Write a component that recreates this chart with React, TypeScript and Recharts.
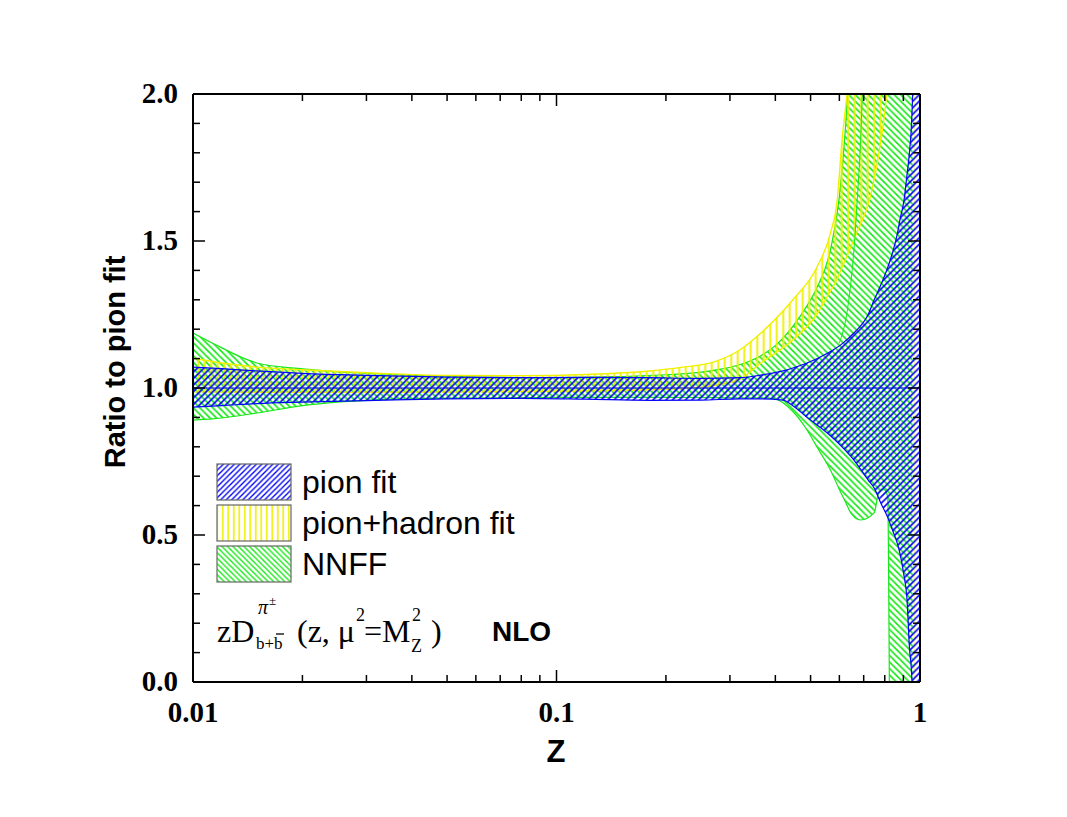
import React from 'react';
import { ComposedChart, Area, Line, XAxis, YAxis, ReferenceLine } from 'recharts';

// pion fit band (blue)
const pionZ = [0.01, 0.012, 0.015, 0.02, 0.03, 0.05, 0.08, 0.12, 0.18, 0.25, 0.32, 0.365, 0.42, 0.447, 0.489, 0.558, 0.61, 0.658, 0.72, 0.748, 0.78, 0.815, 0.84, 0.867, 0.88, 0.904, 0.92, 0.935, 0.95, 0.956, 0.96, 1.0];
const pionLow = [0.935, 0.94, 0.947, 0.952, 0.957, 0.963, 0.965, 0.962, 0.958, 0.959, 0.963, 0.963, 0.959, 0.94, 0.9, 0.845, 0.8, 0.755, 0.687, 0.66, 0.609, 0.56, 0.517, 0.47, 0.439, 0.36, 0.289, 0.119, 0.007, -0.1, -0.5, -0.5];
const pionHigh = [1.071, 1.066, 1.058, 1.05, 1.043, 1.037, 1.035, 1.036, 1.035, 1.033, 1.035, 1.044, 1.058, 1.068, 1.085, 1.119, 1.15, 1.187, 1.25, 1.3, 1.35, 1.41, 1.46, 1.527, 1.57, 1.64, 1.72, 1.8, 1.93, 2.05, 2.5, 2.5];

// pion+hadron fit band (yellow)
const hadZ = [0.01, 0.012, 0.015, 0.02, 0.03, 0.05, 0.08, 0.12, 0.18, 0.22, 0.27, 0.32, 0.365, 0.447, 0.52, 0.567, 0.592, 0.61, 0.63, 0.67, 0.73, 0.78, 0.81, 0.84];
const hadLow = [0.987, 0.986, 0.985, 0.985, 0.985, 0.986, 0.988, 0.99, 0.994, 0.998, 1.008, 1.03, 1.085, 1.163, 1.25, 1.33, 1.37, 1.41, 1.45, 1.527, 1.65, 1.84, 2.0, 2.3];
const hadHigh = [1.102, 1.085, 1.071, 1.062, 1.052, 1.043, 1.042, 1.046, 1.058, 1.07, 1.088, 1.13, 1.187, 1.3, 1.41, 1.527, 1.64, 1.84, 2.0, 2.4, 2.6, 2.6, 2.6, 2.6];
const hadEdgeZ = [0.962, 0.975];
const hadEdgeLow = [-0.5, -0.5];
const hadEdgeHigh = [2.6, 2.6];

// NNFF band (green)
const nnZ = [0.01, 0.0113, 0.015, 0.02, 0.025, 0.03, 0.05, 0.1, 0.2, 0.27, 0.32, 0.365, 0.396, 0.447, 0.489, 0.52, 0.567, 0.6, 0.625, 0.645, 0.686, 0.748, 0.77, 0.795, 0.815, 0.83, 0.955];
const nnLow = [0.891, 0.895, 0.915, 0.94, 0.952, 0.958, 0.965, 0.968, 0.968, 0.967, 0.966, 0.966, 0.964, 0.92, 0.857, 0.8, 0.721, 0.655, 0.61, 0.575, 0.551, 0.575, 0.643, 0.655, 0.63, -0.4, -0.4];
const nnHigh = [1.187, 1.153, 1.085, 1.065, 1.055, 1.05, 1.04, 1.035, 1.045, 1.06, 1.08, 1.11, 1.14, 1.21, 1.28, 1.34, 1.47, 1.65, 1.9, 2.2, 2.6, 2.6, 2.6, 2.6, 2.6, 2.6, 2.6];
const nnInnerZ = [0.6, 0.637, 0.658, 0.672, 0.685, 0.695];
const nnInner = [1.153, 1.3, 1.47, 1.64, 1.82, 2.02];

const xTicks = [0.01, 0.02, 0.03, 0.04, 0.05, 0.06, 0.07, 0.08, 0.09, 0.1, 0.2, 0.3, 0.4, 0.5, 0.6, 0.7, 0.8, 0.9, 1];
const xMajor = [0.01, 0.1, 1];
const yTicks = [0, 0.1, 0.2, 0.3, 0.4, 0.5, 0.6, 0.7, 0.8, 0.9, 1.0, 1.1, 1.2, 1.3, 1.4, 1.5, 1.6, 1.7, 1.8, 1.9, 2.0];
const yMajor = [0, 0.5, 1.0, 1.5, 2.0];

const band = (zs: number[], lo: number[], hi: number[]) =>
  zs.map((z, i) => ({ z, range: [lo[i], hi[i]] }));

const pionData = band(pionZ, pionLow, pionHigh);
const hadData = band(hadZ, hadLow, hadHigh);
const hadEdgeData = band(hadEdgeZ, hadEdgeLow, hadEdgeHigh);
const nnData = band(nnZ, nnLow, nnHigh);
const nnInnerData = nnInnerZ.map((z, i) => ({ z, v: nnInner[i] }));

const BLUE = '#0505f5';
const YELLOW = '#f0f000';
const GREEN = '#18e818';
const serif = "'Liberation Serif', 'Times New Roman', serif";
const sans = "'Liberation Sans', Arial, sans-serif";

const isMajor = (list: number[], v: number) => list.some((m) => Math.abs(m - v) < 1e-9);

const BottomTick = (props: any) => {
  const { x, y, payload } = props;
  const major = isMajor(xMajor, payload.value);
  return (
    <g>
      <line x1={x} x2={x} y1={y} y2={y - (major ? 12 : 7)} stroke="#000" strokeWidth={1.5} />
      {major && (
        <text x={x} y={y + 40} textAnchor="middle" fontFamily={serif} fontWeight="bold" fontSize={29}>
          {String(payload.value)}
        </text>
      )}
    </g>
  );
};

const TopTick = (props: any) => {
  const { x, y, payload } = props;
  const major = isMajor(xMajor, payload.value);
  return <line x1={x} x2={x} y1={y} y2={y + (major ? 12 : 7)} stroke="#000" strokeWidth={1.5} />;
};

const LeftTick = (props: any) => {
  const { x, y, payload } = props;
  const major = isMajor(yMajor, payload.value);
  return (
    <g>
      <line x1={x} x2={x + (major ? 12 : 7)} y1={y} y2={y} stroke="#000" strokeWidth={1.5} />
      {major && (
        <text x={x - 15} y={y + 9} textAnchor="end" fontFamily={serif} fontWeight="bold" fontSize={29}>
          {payload.value.toFixed(1)}
        </text>
      )}
    </g>
  );
};

const RightTick = (props: any) => {
  const { x, y, payload } = props;
  const major = isMajor(yMajor, payload.value);
  return <line x1={x} x2={x - (major ? 12 : 7)} y1={y} y2={y} stroke="#000" strokeWidth={1.5} />;
};

const Hatches = ({ step, prefix, w }: { step: number; prefix: string; w: number }) => (
  <defs>
    <pattern id={`${prefix}-blue`} patternUnits="userSpaceOnUse" width={step} height={step}>
      <path d={`M-1,1 l2,-2 M0,${step} l${step},-${step} M${step - 1},${step + 1} l2,-2`} stroke={BLUE} strokeWidth={w} />
    </pattern>
    <pattern id={`${prefix}-green`} patternUnits="userSpaceOnUse" width={step} height={step}>
      <path d={`M-1,${step - 1} l2,2 M0,0 l${step},${step} M${step - 1},-1 l2,2`} stroke={GREEN} strokeWidth={w} />
    </pattern>
    <pattern id={`${prefix}-yellow`} patternUnits="userSpaceOnUse" width={step} height={step}>
      <path d={`M${step / 2},0 V${step}`} stroke={YELLOW} strokeWidth={w + 0.2} />
    </pattern>
  </defs>
);

const axisLine = { stroke: '#000', strokeWidth: 2 };

export default function App() {
  return (
    <div style={{ position: 'absolute', left: 0, top: 0, width: 1067, height: 817, background: '#fff' }}>
      <svg width={0} height={0} style={{ position: 'absolute' }}>
        <Hatches step={6.5} prefix="plot" w={1.7} />
        <Hatches step={5.5} prefix="leg" w={1.4} />
      </svg>
      <ComposedChart width={1067} height={817} margin={{ top: 93, right: 146, bottom: 75, left: 133 }}>
        <XAxis
          xAxisId={0}
          type="number"
          dataKey="z"
          scale="log"
          domain={[0.01, 1]}
          allowDataOverflow
          ticks={xTicks}
          interval={0}
          height={60}
          tickSize={0}
          tickMargin={0}
          tickLine={false}
          axisLine={axisLine}
          tick={<BottomTick />}
        />
        <XAxis
          xAxisId="top"
          orientation="top"
          type="number"
          dataKey="z"
          scale="log"
          domain={[0.01, 1]}
          allowDataOverflow
          ticks={xTicks}
          interval={0}
          height={1}
          tickSize={0}
          tickMargin={0}
          tickLine={false}
          axisLine={axisLine}
          tick={<TopTick />}
        />
        <YAxis
          yAxisId={0}
          type="number"
          domain={[0, 2]}
          allowDataOverflow
          ticks={yTicks}
          interval={0}
          width={60}
          tickSize={0}
          tickMargin={0}
          tickLine={false}
          axisLine={axisLine}
          tick={<LeftTick />}
        />
        <YAxis
          yAxisId="right"
          orientation="right"
          type="number"
          domain={[0, 2]}
          allowDataOverflow
          ticks={yTicks}
          interval={0}
          width={1}
          tickSize={0}
          tickMargin={0}
          tickLine={false}
          axisLine={axisLine}
          tick={<RightTick />}
        />
        <Area
          data={nnData}
          dataKey="range"
          type="monotone"
          stroke={GREEN}
          strokeWidth={1.2}
          fill="url(#plot-green)"
          fillOpacity={1}
          isAnimationActive={false}
          dot={false}
          activeDot={false}
        />
        <Line
          data={nnInnerData}
          dataKey="v"
          type="monotone"
          stroke={GREEN}
          strokeWidth={1}
          dot={false}
          activeDot={false}
          isAnimationActive={false}
        />
        <Area
          data={hadData}
          dataKey="range"
          type="monotone"
          stroke={YELLOW}
          strokeWidth={1.4}
          fill="url(#plot-yellow)"
          fillOpacity={1}
          isAnimationActive={false}
          dot={false}
          activeDot={false}
        />
        <Area
          data={hadEdgeData}
          dataKey="range"
          type="linear"
          stroke={YELLOW}
          strokeWidth={1.4}
          fill="url(#plot-yellow)"
          fillOpacity={1}
          isAnimationActive={false}
          dot={false}
          activeDot={false}
        />
        <Area
          data={pionData}
          dataKey="range"
          type="monotone"
          stroke={BLUE}
          strokeWidth={1.2}
          fill="url(#plot-blue)"
          fillOpacity={1}
          isAnimationActive={false}
          dot={false}
          activeDot={false}
        />
        <Line
          data={nnInnerData}
          dataKey="v"
          xAxisId="top"
          yAxisId="right"
          stroke="none"
          dot={false}
          activeDot={false}
          isAnimationActive={false}
        />
        <ReferenceLine y={1} stroke={BLUE} strokeWidth={1} />
      </ComposedChart>
      <svg width={1067} height={817} style={{ position: 'absolute', left: 0, top: 0, pointerEvents: 'none' }}>
        <text
          x={125}
          y={362}
          transform="rotate(-90 125 362)"
          textAnchor="middle"
          fontFamily={sans}
          fontWeight="bold"
          fontSize={29}
        >
          Ratio to pion fit
        </text>
        <text x={556} y={762} textAnchor="middle" fontFamily={sans} fontWeight="bold" fontSize={31}>
          Z
        </text>
        {/* legend */}
        <rect x={217} y={464} width={74} height={36} fill="url(#leg-blue)" stroke="#666" strokeWidth={1.2} />
        <rect x={217} y={505} width={74} height={36} fill="url(#leg-yellow)" stroke="#666" strokeWidth={1.2} />
        <rect x={217} y={546} width={74} height={36} fill="url(#leg-green)" stroke="#666" strokeWidth={1.2} />
        <text x={302} y={493} fontFamily={sans} fontSize={32}>pion fit</text>
        <text x={302} y={534} fontFamily={sans} fontSize={32}>pion+hadron fit</text>
        <text x={302} y={575} fontFamily={sans} fontSize={32}>NNFF</text>
        {/* annotation */}
        <text x={217} y={642} fontFamily={serif} fontSize={32}>zD</text>
        <text x={258} y={614} fontFamily={serif} fontStyle="italic" fontSize={20}>π</text>
        <text x={269} y={605} fontFamily={serif} fontSize={13}>±</text>
        <text x={256} y={649} fontFamily={serif} fontSize={17}>b+b</text>
        <line x1={276} x2={284} y1={634} y2={634} stroke="#000" strokeWidth={1.3} />
        <text x={297} y={642} fontFamily={serif} fontSize={32}>(z, μ</text>
        <text x={356} y={621} fontFamily={serif} fontSize={18}>2</text>
        <text x={364} y={642} fontFamily={serif} fontSize={32}>=M</text>
        <text x={412} y={621} fontFamily={serif} fontSize={18}>2</text>
        <text x={411} y={652} fontFamily={serif} fontSize={18}>Z</text>
        <text x={431} y={642} fontFamily={serif} fontSize={32}>)</text>
        <text x={492} y={641} fontFamily={sans} fontWeight="bold" fontSize={28}>NLO</text>
      </svg>
    </div>
  );
}
